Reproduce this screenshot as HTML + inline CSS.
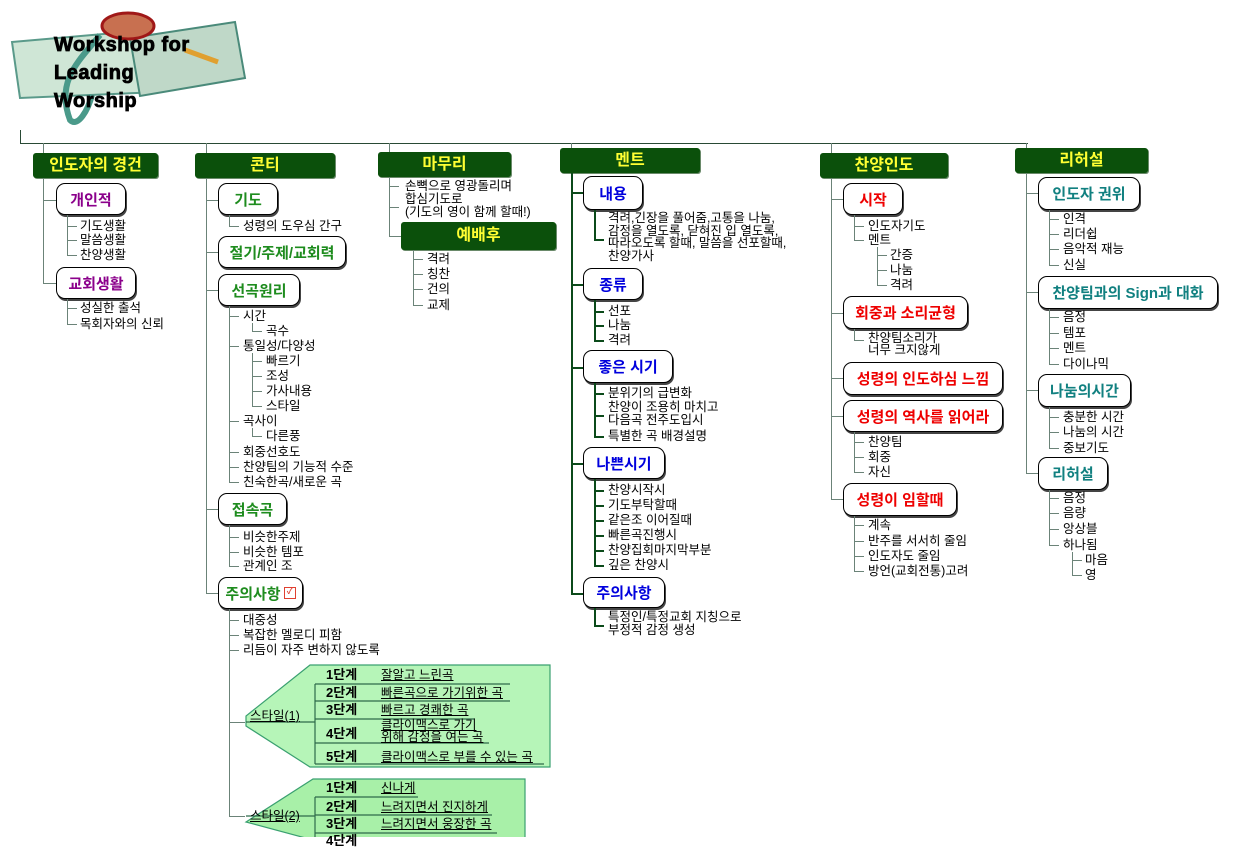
<!DOCTYPE html>
<html><head><meta charset="utf-8">
<style>
body{margin:0;width:1245px;height:837px;overflow:hidden;background:#fff;font-family:"Liberation Sans","Noto Sans CJK KR","NanumGothic",sans-serif;position:relative}
div{position:absolute;box-sizing:border-box}
.hd{background:#0b500b;border-radius:3px;color:#ffff33;font-weight:bold;font-size:16px;text-align:center;line-height:25px;height:25px;box-shadow:1px 1px 0 #6a8a6a}
.b{background:#fff;border:1.5px solid #000;border-radius:9px;font-weight:bold;font-size:15px;text-align:center;box-shadow:1px 2px 0 #444;display:flex;align-items:center;justify-content:center;white-space:nowrap}
.g{color:#1e8c1e}.p{color:#8b008b}.bl{color:#0000dd}.r{color:#ee0000}.tl{color:#118080}
.t{font-size:12.5px;line-height:14px;white-space:nowrap;color:#000}
.v{width:0;border-left:1.5px solid #6b8378}
.h{height:0;border-top:1.5px solid #6b8378}
.dv{width:0;border-left:2px solid #0b4a1a}
.dh{height:0;border-top:2px solid #0b4a1a}
.st{font-size:13px;font-weight:bold;line-height:14px}
.u{font-size:12.5px;line-height:14px;text-decoration:underline;white-space:nowrap}
</style></head><body>

<!-- logo -->
<svg style="position:absolute;left:0;top:0" width="260" height="140">
<polygon points="12,42 150,30 160,92 20,98" fill="#cfe6d6" stroke="#5a9a8a" stroke-width="2"/>
<polygon points="130,38 235,22 245,78 140,96" fill="#bfd8c8" stroke="#4a8a7a" stroke-width="2"/>
<ellipse cx="128" cy="26" rx="26" ry="13" fill="#c87050" stroke="#a01818" stroke-width="3"/>
<path d="M100,35 C80,60 55,80 70,120 C78,128 88,110 92,95" stroke="#4a9a8a" stroke-width="6" fill="none"/>
<path d="M185,50 L218,62" stroke="#e0a030" stroke-width="5"/>
</svg>
<div style="left:54px;top:31px;font:900 20px/28px 'Liberation Sans',sans-serif;color:#000;letter-spacing:0.5px;-webkit-text-stroke:0.8px #000">Workshop for<br>Leading<br>Worship</div>

<!-- top bar -->
<div class="v" style="left:20px;top:130px;height:14px;border-color:#294a35"></div>
<div class="h" style="left:20px;top:143px;width:1008px;border-color:#294a35"></div>
<div class="v" style="left:43px;top:143px;height:12px"></div>
<div class="v" style="left:206px;top:143px;height:12px"></div>
<div class="v" style="left:389px;top:143px;height:10px"></div>
<div class="v" style="left:571px;top:143px;height:6px"></div>
<div class="v" style="left:831px;top:143px;height:12px"></div>
<div class="v" style="left:1026px;top:143px;height:6px"></div>

<!-- headers -->
<div class="hd" style="left:33px;top:153px;width:125px">인도자의 경건</div>
<div class="hd" style="left:195px;top:153px;width:140px">콘티</div>
<div class="hd" style="left:378px;top:152px;width:133px">마무리</div>
<div class="hd" style="left:560px;top:148px;width:140px">멘트</div>
<div class="hd" style="left:820px;top:153px;width:128px">찬양인도</div>
<div class="hd" style="left:1015px;top:148px;width:133px">리허설</div>

<!-- col1 -->
<div class="v" style="left:43px;top:178px;height:106px"></div>
<div class="h" style="left:43px;top:200px;width:13px"></div>
<div class="h" style="left:43px;top:283px;width:13px"></div>
<div class="b p" style="left:56px;top:183px;width:70px;height:32px">개인적</div>
<div class="v" style="left:67px;top:215px;height:41px"></div>
<div class="h" style="left:67px;top:226px;width:10px"></div><div class="h" style="left:67px;top:240px;width:10px"></div><div class="h" style="left:67px;top:255px;width:10px"></div>
<div class="t" style="left:80px;top:219px">기도생활</div>
<div class="t" style="left:80px;top:233px">말씀생활</div>
<div class="t" style="left:80px;top:248px">찬양생활</div>
<div class="b p" style="left:56px;top:267px;width:80px;height:32px">교회생활</div>
<div class="v" style="left:67px;top:299px;height:26px"></div>
<div class="h" style="left:67px;top:308px;width:10px"></div><div class="h" style="left:67px;top:324px;width:10px"></div>
<div class="t" style="left:80px;top:301px">성실한 출석</div>
<div class="t" style="left:80px;top:317px">목회자와의 신뢰</div>

<!-- 콘티 -->
<div class="v" style="left:206px;top:178px;height:416px"></div>
<div class="h" style="left:206px;top:200px;width:12px"></div>
<div class="h" style="left:206px;top:252px;width:12px"></div>
<div class="h" style="left:206px;top:290px;width:12px"></div>
<div class="h" style="left:206px;top:509px;width:12px"></div>
<div class="h" style="left:206px;top:593px;width:12px"></div>
<div class="b g" style="left:218px;top:183px;width:60px;height:32px">기도</div>
<div class="v" style="left:229px;top:215px;height:12px"></div><div class="h" style="left:229px;top:226px;width:10px"></div>
<div class="t" style="left:243px;top:219px">성령의 도우심 간구</div>
<div class="b g" style="left:218px;top:236px;width:128px;height:32px">절기/주제/교회력</div>
<div class="b g" style="left:218px;top:274px;width:82px;height:32px">선곡원리</div>
<div class="v" style="left:229px;top:306px;height:177px"></div>
<div class="h" style="left:229px;top:316px;width:10px"></div>
<div class="h" style="left:229px;top:346px;width:10px"></div>
<div class="h" style="left:229px;top:421px;width:10px"></div>
<div class="h" style="left:229px;top:452px;width:10px"></div>
<div class="h" style="left:229px;top:467px;width:10px"></div>
<div class="h" style="left:229px;top:482px;width:10px"></div>
<div class="t" style="left:243px;top:309px">시간</div>
<div class="v" style="left:252px;top:323px;height:9px"></div><div class="h" style="left:252px;top:331px;width:10px"></div>
<div class="t" style="left:266px;top:324px">곡수</div>
<div class="t" style="left:243px;top:339px">통일성/다양성</div>
<div class="v" style="left:252px;top:353px;height:54px"></div>
<div class="h" style="left:252px;top:361px;width:10px"></div><div class="h" style="left:252px;top:376px;width:10px"></div><div class="h" style="left:252px;top:391px;width:10px"></div><div class="h" style="left:252px;top:406px;width:10px"></div>
<div class="t" style="left:266px;top:354px">빠르기</div>
<div class="t" style="left:266px;top:369px">조성</div>
<div class="t" style="left:266px;top:384px">가사내용</div>
<div class="t" style="left:266px;top:399px">스타일</div>
<div class="t" style="left:243px;top:414px">곡사이</div>
<div class="v" style="left:252px;top:428px;height:9px"></div><div class="h" style="left:252px;top:436px;width:10px"></div>
<div class="t" style="left:266px;top:429px">다른풍</div>
<div class="t" style="left:243px;top:445px">회중선호도</div>
<div class="t" style="left:243px;top:460px">찬양팀의 기능적 수준</div>
<div class="t" style="left:243px;top:475px">친숙한곡/새로운 곡</div>
<div class="b g" style="left:218px;top:493px;width:69px;height:32px">접속곡</div>
<div class="v" style="left:229px;top:525px;height:42px"></div>
<div class="h" style="left:229px;top:537px;width:10px"></div><div class="h" style="left:229px;top:552px;width:10px"></div><div class="h" style="left:229px;top:566px;width:10px"></div>
<div class="t" style="left:243px;top:530px">비슷한주제</div>
<div class="t" style="left:243px;top:545px">비슷한 템포</div>
<div class="t" style="left:243px;top:559px">관계인 조</div>
<div class="b g" style="left:218px;top:577px;width:85px;height:32px">주의사항<span style="display:inline-block;width:10px;height:10px;border:1.5px solid #e04030;margin-left:3px;font-size:8px;line-height:8px;color:#e04030">✓</span></div>
<div class="v" style="left:229px;top:609px;height:208px"></div>
<div class="h" style="left:229px;top:620px;width:10px"></div><div class="h" style="left:229px;top:635px;width:10px"></div><div class="h" style="left:229px;top:650px;width:10px"></div>
<div class="h" style="left:229px;top:722px;width:16px"></div><div class="h" style="left:229px;top:816px;width:16px"></div>
<div class="t" style="left:243px;top:613px">대중성</div>
<div class="t" style="left:243px;top:628px">복잡한 멜로디 피함</div>
<div class="t" style="left:243px;top:643px">리듬이 자주 변하지 않도록</div>

<!-- styles -->
<svg style="position:absolute;left:0;top:0" width="1245" height="837">
<polygon points="310,665 550,665 550,767 310,767 246,726 246,716" fill="#b6f5b8" stroke="#3aa070" stroke-width="1.2"/>
<polygon points="313,779 525,779 525,840 313,840 246,822" fill="#a8f0a8" stroke="#3aa070" stroke-width="1.2"/>
<g stroke="#2f6a4a" stroke-width="1.2" fill="none">
<line x1="246" y1="722" x2="315" y2="722"/>
<line x1="315" y1="684" x2="315" y2="764"/>
<line x1="315" y1="684" x2="510" y2="684"/><line x1="315" y1="701" x2="510" y2="701"/>
<line x1="315" y1="719" x2="474" y2="719"/><line x1="315" y1="743" x2="489" y2="743"/>
<line x1="315" y1="764" x2="544" y2="764"/>
<line x1="246" y1="816" x2="315" y2="816"/>
<line x1="315" y1="797" x2="315" y2="837"/>
<line x1="315" y1="797" x2="418" y2="797"/><line x1="315" y1="815" x2="492" y2="815"/><line x1="315" y1="833" x2="497" y2="833"/>
</g>
</svg>
<div class="u" style="left:250px;top:709px">스타일(1)</div>
<div class="st" style="left:326px;top:668px">1단계</div><div class="u" style="left:381px;top:668px">잘알고 느린곡</div>
<div class="st" style="left:326px;top:686px">2단계</div><div class="u" style="left:381px;top:686px">빠른곡으로 가기위한 곡</div>
<div class="st" style="left:326px;top:703px">3단계</div><div class="u" style="left:381px;top:703px">빠르고 경쾌한 곡</div>
<div class="st" style="left:326px;top:727px">4단계</div><div class="u" style="left:381px;top:719px;line-height:12px">클라이맥스로 가기<br>위해 감정을 여는 곡</div>
<div class="st" style="left:326px;top:750px">5단계</div><div class="u" style="left:381px;top:750px">클라이맥스로 부를 수 있는 곡</div>
<div class="u" style="left:250px;top:809px">스타일(2)</div>
<div class="st" style="left:326px;top:781px">1단계</div><div class="u" style="left:381px;top:781px">신나게</div>
<div class="st" style="left:326px;top:800px">2단계</div><div class="u" style="left:381px;top:800px">느려지면서 진지하게</div>
<div class="st" style="left:326px;top:817px">3단계</div><div class="u" style="left:381px;top:817px">느려지면서 웅장한 곡</div>
<div class="st" style="left:326px;top:834px">4단계</div>

<!-- 마무리 -->
<div class="v" style="left:389px;top:177px;height:59px"></div>
<div class="h" style="left:389px;top:186px;width:10px"></div><div class="h" style="left:389px;top:207px;width:10px"></div><div class="h" style="left:389px;top:236px;width:12px"></div>
<div class="t" style="left:405px;top:179px">손뼉으로 영광돌리며</div>
<div class="t" style="left:405px;top:193px;line-height:13px">합심기도로<br>(기도의 영이 함께 할때!)</div>
<div class="hd" style="left:401px;top:222px;width:155px;height:28px;line-height:28px">예배후</div>
<div class="v" style="left:413px;top:250px;height:56px"></div>
<div class="h" style="left:413px;top:259px;width:10px"></div><div class="h" style="left:413px;top:274px;width:10px"></div><div class="h" style="left:413px;top:289px;width:10px"></div><div class="h" style="left:413px;top:305px;width:10px"></div>
<div class="t" style="left:427px;top:252px">격려</div>
<div class="t" style="left:427px;top:267px">칭찬</div>
<div class="t" style="left:427px;top:282px">건의</div>
<div class="t" style="left:427px;top:298px">교제</div>

<!-- 멘트 -->
<div class="dv" style="left:571px;top:173px;height:421px"></div>
<div class="dh" style="left:571px;top:192px;width:12px"></div>
<div class="dh" style="left:571px;top:284px;width:12px"></div>
<div class="dh" style="left:571px;top:367px;width:12px"></div>
<div class="dh" style="left:571px;top:463px;width:12px"></div>
<div class="dh" style="left:571px;top:593px;width:12px"></div>
<div class="b bl" style="left:583px;top:176px;width:60px;height:34px">내용</div>
<div class="dv" style="left:594px;top:210px;height:30px"></div><div class="dh" style="left:594px;top:239px;width:10px"></div>
<div class="t" style="left:608px;top:212px;line-height:12.5px">격려,긴장을 풀어줌,고통을 나눔,<br>감정을 열도록, 닫혀진 입 열도록,<br>따라오도록 할때, 말씀을 선포할때,<br>찬양가사</div>
<div class="b bl" style="left:583px;top:268px;width:60px;height:32px">종류</div>
<div class="dv" style="left:594px;top:300px;height:41px"></div>
<div class="dh" style="left:594px;top:311px;width:10px"></div><div class="dh" style="left:594px;top:325px;width:10px"></div><div class="dh" style="left:594px;top:340px;width:10px"></div>
<div class="t" style="left:608px;top:304px">선포</div>
<div class="t" style="left:608px;top:318px">나눔</div>
<div class="t" style="left:608px;top:333px">격려</div>
<div class="b bl" style="left:583px;top:350px;width:90px;height:33px">좋은 시기</div>
<div class="dv" style="left:594px;top:383px;height:54px"></div>
<div class="dh" style="left:594px;top:393px;width:10px"></div><div class="dh" style="left:594px;top:415px;width:10px"></div><div class="dh" style="left:594px;top:436px;width:10px"></div>
<div class="t" style="left:608px;top:386px">분위기의 급변화</div>
<div class="t" style="left:608px;top:401px;line-height:13px">찬양이 조용히 마치고<br>다음곡 전주도입시</div>
<div class="t" style="left:608px;top:429px">특별한 곡 배경설명</div>
<div class="b bl" style="left:583px;top:447px;width:82px;height:32px">나쁜시기</div>
<div class="dv" style="left:594px;top:479px;height:87px"></div>
<div class="dh" style="left:594px;top:490px;width:10px"></div><div class="dh" style="left:594px;top:505px;width:10px"></div><div class="dh" style="left:594px;top:520px;width:10px"></div><div class="dh" style="left:594px;top:535px;width:10px"></div><div class="dh" style="left:594px;top:550px;width:10px"></div><div class="dh" style="left:594px;top:565px;width:10px"></div>
<div class="t" style="left:608px;top:483px">찬양시작시</div>
<div class="t" style="left:608px;top:498px">기도부탁할때</div>
<div class="t" style="left:608px;top:513px">같은조 이어질때</div>
<div class="t" style="left:608px;top:528px">빠른곡진행시</div>
<div class="t" style="left:608px;top:543px">찬양집회마지막부분</div>
<div class="t" style="left:608px;top:558px">깊은 찬양시</div>
<div class="b bl" style="left:583px;top:577px;width:82px;height:31px">주의사항</div>
<div class="dv" style="left:594px;top:608px;height:18px"></div><div class="dh" style="left:594px;top:625px;width:10px"></div>
<div class="t" style="left:608px;top:611px;line-height:13px">특정인/특정교회 지칭으로<br>부정적 감정 생성</div>

<!-- 찬양인도 -->
<div class="v" style="left:831px;top:178px;height:321px"></div>
<div class="h" style="left:831px;top:199px;width:12px"></div>
<div class="h" style="left:831px;top:313px;width:12px"></div>
<div class="h" style="left:831px;top:378px;width:12px"></div>
<div class="h" style="left:831px;top:416px;width:12px"></div>
<div class="h" style="left:831px;top:499px;width:12px"></div>
<div class="b r" style="left:843px;top:183px;width:60px;height:32px">시작</div>
<div class="v" style="left:854px;top:215px;height:26px"></div>
<div class="h" style="left:854px;top:226px;width:10px"></div><div class="h" style="left:854px;top:240px;width:10px"></div>
<div class="t" style="left:868px;top:219px">인도자기도</div>
<div class="t" style="left:868px;top:233px">멘트</div>
<div class="v" style="left:877px;top:247px;height:39px"></div>
<div class="h" style="left:877px;top:255px;width:10px"></div><div class="h" style="left:877px;top:270px;width:10px"></div><div class="h" style="left:877px;top:285px;width:10px"></div>
<div class="t" style="left:890px;top:248px">간증</div>
<div class="t" style="left:890px;top:263px">나눔</div>
<div class="t" style="left:890px;top:278px">격려</div>
<div class="b r" style="left:843px;top:296px;width:125px;height:33px">회중과 소리균형</div>
<div class="v" style="left:854px;top:329px;height:12px"></div><div class="h" style="left:854px;top:340px;width:10px"></div>
<div class="t" style="left:868px;top:332px;line-height:12px">찬양팀소리가<br>너무 크지않게</div>
<div class="b r" style="left:843px;top:362px;width:160px;height:33px">성령의 인도하심 느낌</div>
<div class="b r" style="left:843px;top:400px;width:160px;height:32px">성령의 역사를 읽어라</div>
<div class="v" style="left:854px;top:432px;height:41px"></div>
<div class="h" style="left:854px;top:442px;width:10px"></div><div class="h" style="left:854px;top:457px;width:10px"></div><div class="h" style="left:854px;top:472px;width:10px"></div>
<div class="t" style="left:868px;top:435px">찬양팀</div>
<div class="t" style="left:868px;top:450px">회중</div>
<div class="t" style="left:868px;top:465px">자신</div>
<div class="b r" style="left:843px;top:483px;width:114px;height:33px">성령이 임할때</div>
<div class="v" style="left:854px;top:516px;height:56px"></div>
<div class="h" style="left:854px;top:525px;width:10px"></div><div class="h" style="left:854px;top:541px;width:10px"></div><div class="h" style="left:854px;top:556px;width:10px"></div><div class="h" style="left:854px;top:571px;width:10px"></div>
<div class="t" style="left:868px;top:518px">계속</div>
<div class="t" style="left:868px;top:534px">반주를 서서히 줄임</div>
<div class="t" style="left:868px;top:549px">인도자도 줄임</div>
<div class="t" style="left:868px;top:564px">방언(교회전통)고려</div>

<!-- 리허설 -->
<div class="v" style="left:1026px;top:173px;height:301px"></div>
<div class="h" style="left:1026px;top:193px;width:12px"></div>
<div class="h" style="left:1026px;top:292px;width:12px"></div>
<div class="h" style="left:1026px;top:390px;width:12px"></div>
<div class="h" style="left:1026px;top:473px;width:12px"></div>
<div class="b tl" style="left:1038px;top:177px;width:102px;height:33px">인도자 권위</div>
<div class="v" style="left:1049px;top:210px;height:56px"></div>
<div class="h" style="left:1049px;top:219px;width:10px"></div><div class="h" style="left:1049px;top:234px;width:10px"></div><div class="h" style="left:1049px;top:249px;width:10px"></div><div class="h" style="left:1049px;top:265px;width:10px"></div>
<div class="t" style="left:1063px;top:212px">인격</div>
<div class="t" style="left:1063px;top:227px">리더쉽</div>
<div class="t" style="left:1063px;top:242px">음악적 재능</div>
<div class="t" style="left:1063px;top:258px">신실</div>
<div class="b tl" style="left:1038px;top:276px;width:180px;height:33px">찬양팀과의 Sign과 대화</div>
<div class="v" style="left:1049px;top:309px;height:56px"></div>
<div class="h" style="left:1049px;top:317px;width:10px"></div><div class="h" style="left:1049px;top:333px;width:10px"></div><div class="h" style="left:1049px;top:348px;width:10px"></div><div class="h" style="left:1049px;top:364px;width:10px"></div>
<div class="t" style="left:1063px;top:310px">음정</div>
<div class="t" style="left:1063px;top:326px">템포</div>
<div class="t" style="left:1063px;top:341px">멘트</div>
<div class="t" style="left:1063px;top:357px">다이나믹</div>
<div class="b tl" style="left:1038px;top:374px;width:93px;height:33px">나눔의시간</div>
<div class="v" style="left:1049px;top:407px;height:42px"></div>
<div class="h" style="left:1049px;top:417px;width:10px"></div><div class="h" style="left:1049px;top:432px;width:10px"></div><div class="h" style="left:1049px;top:448px;width:10px"></div>
<div class="t" style="left:1063px;top:410px">충분한 시간</div>
<div class="t" style="left:1063px;top:425px">나눔의 시간</div>
<div class="t" style="left:1063px;top:441px">중보기도</div>
<div class="b tl" style="left:1038px;top:457px;width:70px;height:33px">리허설</div>
<div class="v" style="left:1049px;top:490px;height:56px"></div>
<div class="h" style="left:1049px;top:498px;width:10px"></div><div class="h" style="left:1049px;top:513px;width:10px"></div><div class="h" style="left:1049px;top:529px;width:10px"></div><div class="h" style="left:1049px;top:545px;width:10px"></div>
<div class="t" style="left:1063px;top:491px">음정</div>
<div class="t" style="left:1063px;top:506px">음량</div>
<div class="t" style="left:1063px;top:522px">앙상블</div>
<div class="t" style="left:1063px;top:538px">하나됨</div>
<div class="v" style="left:1072px;top:552px;height:24px"></div>
<div class="h" style="left:1072px;top:560px;width:10px"></div><div class="h" style="left:1072px;top:575px;width:10px"></div>
<div class="t" style="left:1085px;top:553px">마음</div>
<div class="t" style="left:1085px;top:568px">영</div>
</body></html>
